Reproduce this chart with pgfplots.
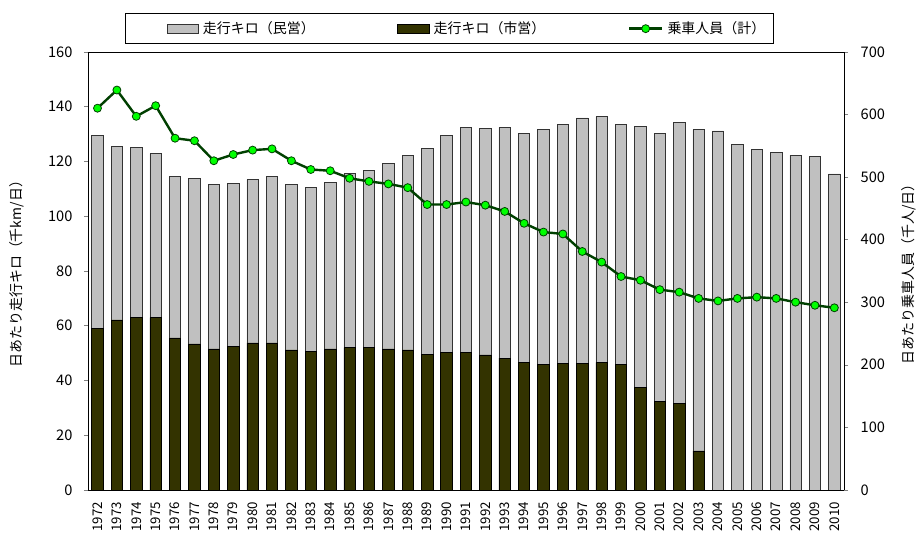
\documentclass[border=0pt]{standalone}
\usepackage{fontspec}
\setmainfont{Noto Sans CJK JP}
\usepackage{pgfplots}
\pgfplotsset{compat=1.18}
\definecolor{minei}{HTML}{C0C0C0}
\definecolor{shiei}{HTML}{333300}
\definecolor{lineg}{HTML}{004000}
\definecolor{markg}{HTML}{00FF00}
\begin{document}
\begin{tikzpicture}
\path (-66pt,-33.75pt) rectangle (624pt,368.25pt);
\begin{axis}[
  scale only axis, width=568.5pt, height=329.25pt,
  xmin=-0.5, xmax=38.5, ymin=0, ymax=160,
  ytick={0,20,...,160},
  ybar stacked, bar width=8.6pt,
  xtick={0,...,38},
  xticklabels={1972,1973,1974,1975,1976,1977,1978,1979,1980,1981,1982,1983,1984,1985,1986,1987,1988,1989,1990,1991,1992,1993,1994,1995,1996,1997,1998,1999,2000,2001,2002,2003,2004,2005,2006,2007,2008,2009,2010},
  xtick style={draw=none},
  minor x tick num=1,
  minor tick length=3pt,
  ytick align=outside, ytick pos=left,
  major tick length=3pt,
  xticklabel style={rotate=90, anchor=east, inner xsep=9pt, font=\fontsize{10}{10}\selectfont},
  yticklabel style={font=\fontsize{11}{12}\selectfont, xshift=-5pt},
  /pgf/number format/assume math mode=true,
  ylabel={日あたり走行キロ（千km/日）},
  ylabel style={at={(axis description cs:-0.0937,0.5)}, anchor=center, rotate=0, font=\fontsize{10.5}{12}\selectfont},
  axis line style={black},
  legend columns=3,
  legend style={at={(axis description cs:0.478,1)}, anchor=south, yshift=6pt,
    draw=black, font=\fontsize{10.5}{12}\selectfont, inner xsep=2pt, inner ysep=4pt,
    /tikz/every even column/.append style={column sep=60pt}},
]
\addplot+[forget plot, fill=shiei, draw=black, line width=0.5pt] coordinates {
(0,59.0) (1,62.1) (2,62.9) (3,62.9) (4,55.5) (5,53.3) (6,51.5) (7,52.5) (8,53.7) (9,53.7)
(10,51.1) (11,50.7) (12,51.5) (13,52.0) (14,52.0) (15,51.5) (16,51.1) (17,49.6) (18,50.3) (19,50.3)
(20,49.3) (21,48.1) (22,46.6) (23,45.7) (24,46.2) (25,46.2) (26,46.6) (27,45.7) (28,37.5) (29,32.2)
(30,31.7) (31,14.2) (32,0) (33,0) (34,0) (35,0) (36,0) (37,0) (38,0)};
\addplot+[forget plot, fill=minei, draw=black!80, line width=0.5pt] coordinates {
(0,70.4) (1,63.3) (2,62.1) (3,59.9) (4,58.9) (5,60.4) (6,60.0) (7,59.4) (8,59.6) (9,60.7)
(10,60.4) (11,59.7) (12,60.7) (13,63.5) (14,64.6) (15,67.7) (16,71.0) (17,75.0) (18,79.1) (19,82.1)
(20,82.7) (21,84.3) (22,83.6) (23,85.9) (24,87.4) (25,89.7) (26,89.7) (27,87.9) (28,95.3) (29,98.0)
(30,102.4) (31,117.4) (32,131.1) (33,126.2) (34,124.4) (35,123.2) (36,122.3) (37,121.8) (38,115.4)};
\addlegendimage{legend image code/.code={\path (-29pt,0pt); \draw[fill=minei, draw=black!80] (0pt,-3.5pt) rectangle (24pt,3.5pt);}}
\addlegendentry{\hspace*{1pt}走行キロ（民営）}
\addlegendimage{legend image code/.code={\draw[fill=shiei, draw=black] (0pt,-3.5pt) rectangle (24pt,3.5pt);}}
\addlegendentry{\hspace*{1pt}走行キロ（市営）}
\addlegendimage{legend image code/.code={\draw[lineg, line width=1.8pt] (0pt,0pt) -- (25pt,0pt); \draw[lineg, fill=markg, line width=0.6pt] (12.5pt,0pt) circle (3pt);}}
\addlegendentry{\hspace*{1pt}乗車人員（計）\hspace*{2pt}}
\end{axis}
\begin{axis}[
  scale only axis, width=568.5pt, height=329.25pt,
  xmin=-0.5, xmax=38.5, ymin=0, ymax=700,
  ytick={0,100,...,700},
  axis y line*=right, axis x line=none,
  ytick align=outside, major tick length=3pt,
  yticklabel style={font=\fontsize{11}{12}\selectfont, xshift=6pt},
  /pgf/number format/assume math mode=true,
  ylabel={日あたり乗車人員（千人/日）},
  ylabel style={at={(axis description cs:1.085,0.5)}, anchor=center, rotate=0, font=\fontsize{10.5}{12}\selectfont},
]
\addplot[lineg, line width=1.8pt, mark=*, mark size=3pt, mark options={fill=markg, draw=lineg, line width=0.6pt}] coordinates {
(0,610) (1,639) (2,597) (3,614) (4,562) (5,558) (6,526) (7,536) (8,543) (9,545)
(10,526) (11,512) (12,510) (13,498) (14,493) (15,489) (16,483) (17,456) (18,456) (19,460)
(20,455) (21,445) (22,426) (23,412) (24,409) (25,381) (26,364) (27,341) (28,335) (29,320)
(30,316) (31,306) (32,302) (33,306) (34,308) (35,306) (36,300) (37,295) (38,291)};
\end{axis}
\end{tikzpicture}
\end{document}
